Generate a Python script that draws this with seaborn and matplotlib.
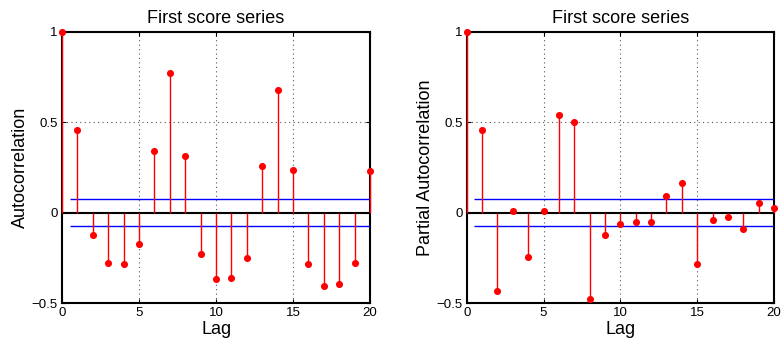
import numpy as np
import pandas as pd
import matplotlib
matplotlib.use("Agg")
import matplotlib.pyplot as plt
import seaborn as sns

# ---- data ----
lags = list(range(0, 21))
acf_values = [1.0, 0.459, -0.125, -0.276, -0.282, -0.171, 0.344, 0.770, 0.313,
              -0.230, -0.366, -0.359, -0.252, 0.258, 0.678, 0.238, -0.282,
              -0.405, -0.396, -0.276, 0.232]
pacf_values = [1.0, 0.460, -0.433, 0.011, -0.243, 0.011, 0.538, 0.503, -0.479,
               -0.125, -0.061, -0.050, -0.053, 0.094, 0.166, -0.284, -0.041,
               -0.024, -0.087, 0.055, 0.024]
bound = 0.075
titles = ["First score series", "First score series"]
ylabels = ["Autocorrelation", "Partial Autocorrelation"]
xlabel = "Lag"
xticks = [0, 5, 10, 15, 20]
yticks = [-0.5, 0, 0.5, 1]
yticklabels = ["\u22120.5", "0", "0.5", "1"]

sns.set_style("ticks")
plt.rcParams["font.family"] = ["Liberation Sans", "DejaVu Sans"]
plt.rcParams["axes.unicode_minus"] = True
plt.rcParams["text.color"] = "black"
plt.rcParams["axes.labelcolor"] = "black"
plt.rcParams["xtick.color"] = "black"
plt.rcParams["ytick.color"] = "black"

fig = plt.figure(figsize=(7.82, 3.49), dpi=100)
axes = [fig.add_axes([0.0793, 0.131, 0.394, 0.778]),
        fig.add_axes([0.5968, 0.131, 0.393, 0.778])]

for ax, vals, title, ylab in zip(axes, [acf_values, pacf_values], titles, ylabels):
    df = pd.DataFrame({"lag": lags, "value": vals})
    # grid
    for xv in xticks[1:-1]:
        ax.axvline(xv, color="#555555", linestyle=(0, (1, 3)), linewidth=0.8, zorder=0)
    ax.axhline(0.5, color="#555555", linestyle=(0, (1, 3)), linewidth=0.8, zorder=0)
    # bounds and zero line
    ax.hlines([bound, -bound], 0.5, 20, color="blue", linewidth=1.0, zorder=3)
    ax.axhline(0, color="black", linewidth=1.5, zorder=3)
    # stems
    ax.vlines(df["lag"], 0, df["value"], color="red", linewidth=1.0, zorder=4,
              clip_on=False)
    sns.scatterplot(data=df, x="lag", y="value", ax=ax, color="red", s=26,
                    edgecolor="red", linewidth=0, zorder=5, clip_on=False)
    ax.set_xlim(0, 20)
    ax.set_ylim(-0.5, 1)
    ax.set_xticks(xticks)
    ax.set_xticklabels([str(t) for t in xticks])
    ax.set_yticks(yticks)
    ax.set_yticklabels(yticklabels)
    ax.tick_params(direction="in", length=3, width=0.8, labelsize=9.5,
                   top=True, right=True, pad=3, colors="black")
    for sp in ax.spines.values():
        sp.set_visible(True)
        sp.set_linewidth(1.5)
        sp.set_color("black")
    ax.set_title(title, fontsize=13, pad=6, color="black")
    ax.set_xlabel(xlabel, fontsize=13, labelpad=1, color="black")
    ax.set_ylabel(ylab, fontsize=13, labelpad=2, color="black")

fig.savefig("out.png", dpi=100)
